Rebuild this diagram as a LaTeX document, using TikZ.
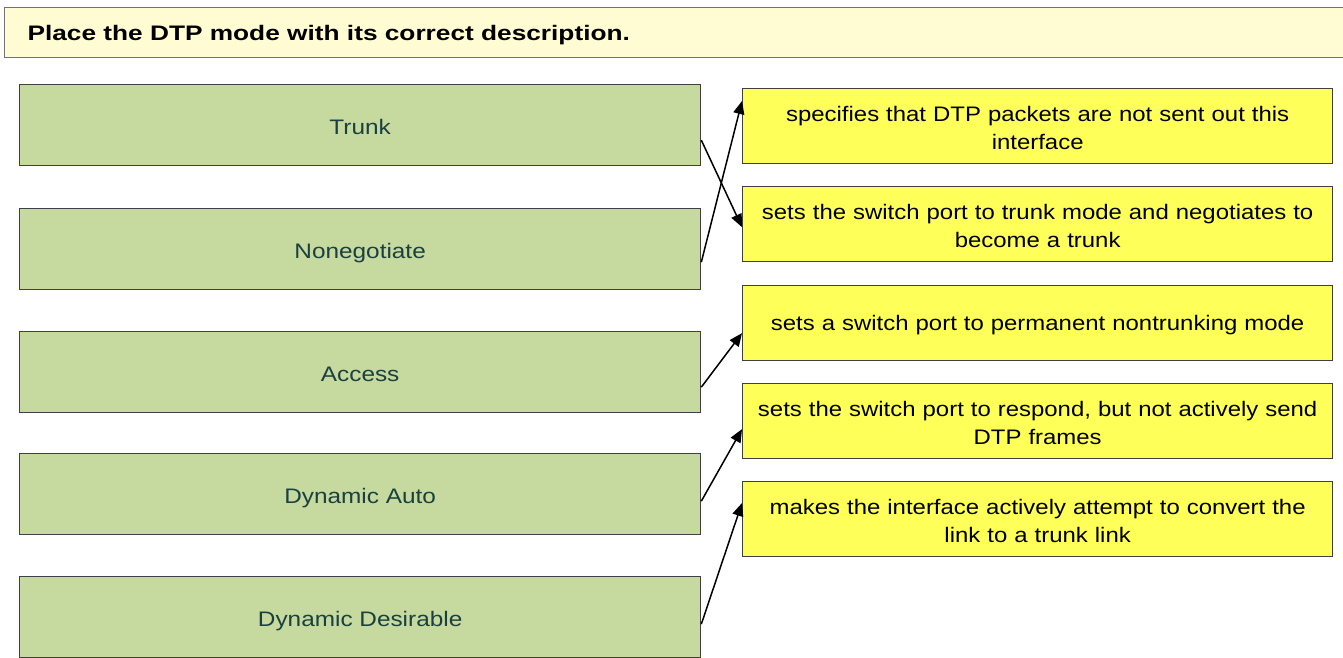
\documentclass[tikz,border=0pt]{standalone}
\usepackage{fontspec}
\setmainfont{Liberation Sans}
\newfontfamily\titlefont[FakeStretch=1.25]{Liberation Sans}
\newfontfamily\modefont[FakeStretch=1.16]{Liberation Sans}
\newfontfamily\descfont[FakeStretch=1.14]{Liberation Sans}
\usetikzlibrary{arrows.meta}
\definecolor{titlefill}{HTML}{FFFBD2}
\definecolor{greenfill}{HTML}{C6D99E}
\definecolor{yelfill}{HTML}{FFFF5A}
\definecolor{greentext}{HTML}{1A4040}
\begin{document}
\begin{tikzpicture}[x=1pt,y=-1pt,
  modebox/.style={draw=black!75,line width=1.3pt,fill=greenfill,minimum width=681pt,minimum height=81pt,inner sep=0pt,text height=19pt,text depth=0pt,text=greentext,font=\modefont\fontsize{21}{24}\selectfont},
  descbox/.style={draw=black!75,line width=1.3pt,fill=yelfill,minimum width=590pt,minimum height=75pt,inner sep=0pt,text width=585pt,align=center,text depth=24pt,font=\descfont\fontsize{21}{28}\selectfont},
  link/.style={line width=1.5pt,-{Triangle[length=13pt,width=11pt]}}]
\useasboundingbox (0,0) rectangle (1343,657);
\node[draw=black!55,line width=1pt,fill=titlefill,minimum width=1350pt,minimum height=50pt,anchor=north west,inner sep=0pt] (title) at (4,7) {};
\node[anchor=west,font=\titlefont\bfseries\fontsize{21}{24}\selectfont] (titletext) at (24,35) {Place the DTP mode with its correct description.};
\node[modebox,anchor=north west] (trunk) at (19,84) {Trunk};
\node[modebox,anchor=north west] (noneg) at (19,208) {Nonegotiate};
\node[modebox,anchor=north west] (access) at (19,331) {Access};
\node[modebox,anchor=north west] (auto) at (19,453) {Dynamic Auto};
\node[modebox,anchor=north west] (desir) at (19,576) {Dynamic Desirable};
\node[descbox,anchor=north west] (d1) at (742,88) {specifies that DTP packets are not sent out this\\interface};
\node[descbox,anchor=north west] (d2) at (742,186) {sets the switch port to trunk mode and negotiates to\\become a trunk};
\node[descbox,anchor=north west,text depth=0pt] (d3) at (742,285) {sets a switch port to permanent nontrunking mode};
\node[descbox,anchor=north west] (d4) at (742,383) {sets the switch port to respond, but not actively send\\DTP frames};
\node[descbox,anchor=north west] (d5) at (742,481) {makes the interface actively attempt to convert the\\link to a trunk link};
\draw[link] ([yshift=-15pt]trunk.east) -- ([yshift=-3pt]d2.west);
\draw[link] ([yshift=-13pt]noneg.east) -- ([yshift=-13pt]d1.north west);
\draw[link] ([yshift=-15pt]access.east) -- ([yshift=-10pt]d3.west);
\draw[link] ([yshift=-7pt]auto.east) -- ([yshift=-8pt]d4.west);
\draw[link] ([yshift=-7pt]desir.east) -- ([yshift=-22pt]d5.north west);
\end{tikzpicture}
\end{document}
